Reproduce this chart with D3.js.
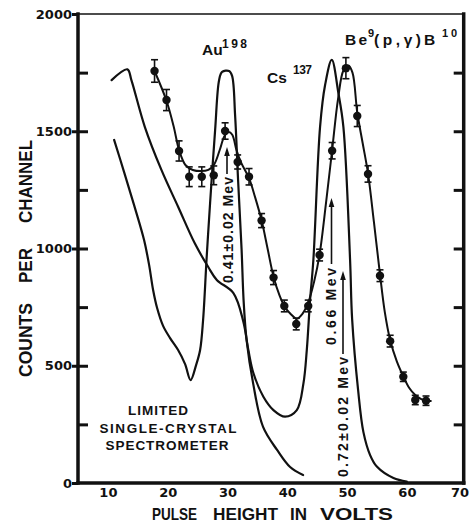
<!DOCTYPE html>
<html><head><meta charset="utf-8">
<script src="https://cdn.jsdelivr.net/npm/d3@7/dist/d3.min.js"></script>
<style>
html,body{margin:0;padding:0;background:#fff;}
svg{display:block;}
text{font-family:"Liberation Sans",Arial,sans-serif;font-weight:bold;fill:#111;}
</style></head><body>
<svg id="chart" width="469" height="524"></svg>
<script>
// ---------- data ----------
const xTicks = [10, 20, 30, 40, 50, 60, 70];
const yTicks = [0, 500, 1000, 1500, 2000];
const yInnerTicks = [250, 500, 750, 1000, 1250, 1500, 1750];

// Be9(p,gamma)B10 measured points
const pointX = [17.8,19.8,21.9,23.6,25.7,27.7,29.6,31.7,33.6,35.7,37.7,39.5,41.5,43.5,45.4,47.5,49.8,51.7,53.5,55.5,57.2,59.4,61.4,63.2];
const pointY = [1757,1633,1416,1306,1306,1312,1501,1369,1306,1119,876,755,678,755,972,1417,1769,1565,1318,884,605,453,354,351];
const pointErr = [48,45,43,42,42,40,35,30,35,30,30,25,25,25,25,35,45,45,35,25,25,20,20,20];

// fitted curve through the points
const fitX = [17.8,19.8,21.0,21.9,23.0,24.2,25.5,26.8,27.8,28.7,29.5,30.2,30.8,31.5,32.3,33.6,34.6,35.7,36.7,37.7,38.7,39.6,40.6,41.6,42.5,43.5,44.5,45.4,46.5,47.5,48.5,49.4,50.2,50.9,51.7,52.6,53.5,54.5,55.5,56.3,57.2,58.3,59.4,60.4,61.4,62.4,63.2,64.0];
const fitY = [1757,1630,1520,1420,1355,1335,1330,1335,1360,1420,1480,1497,1485,1420,1365,1300,1220,1120,1000,880,800,750,720,700,720,770,860,975,1200,1420,1640,1760,1780,1750,1580,1450,1320,1110,890,730,610,520,455,405,375,358,352,350];

// Cs137 response curve
const csX = [10.62,13.26,13.93,16.17,18.95,21.74,24.53,26.76,28.21,30.99,32.66,33.49,34.33,36.0,37.68,39.63,41.59,42.70,43.26,43.81,44.36,45.48,46.32,47.44,48.55,49.38,50.50,50.84,51.84,52.73,53.85,54.97,57.75,59.98];
const csY = [1718,1764,1718,1519,1335,1178,1022,922,866,810,687,567,469,368,311,283,311,425,567,780,951,1519,1697,1804,1662,1519,951,700,397,217,119,70,21,6];

// Au198 response curve
const auX = [11.04,12.71,14.38,16.05,16.89,17.56,18.23,19.23,20.40,21.74,22.91,23.83,24.75,25.42,25.92,26.51,27.09,27.93,28.60,29.10,30.27,30.77,31.27,31.77,32.36,32.69,33.19,34.28,35.95,38.29,40.47,42.64];
const auY = [1463,1326,1185,1036,930,823,746,670,618,567,507,439,503,567,695,959,1194,1505,1719,1753,1757,1736,1569,1292,994,780,610,426,239,141,68,34];

// ---------- chart ----------
const svg = d3.select("#chart");
const x = d3.scaleLinear().domain([5, 69.5]).range([78, 463.7]);
const y = d3.scaleLinear().domain([0, 2000]).range([483, 14]);
const ink = "#111";

const line = d3.line().x(d => x(d[0])).y(d => y(d[1])).curve(d3.curveCatmullRom.alpha(0.5));

// frame
const fr = svg.append("g").attr("stroke", ink).attr("fill", "none").attr("stroke-linecap", "square");
fr.append("line").attr("x1", x(5)).attr("x2", x(5)).attr("y1", y(2000)).attr("y2", y(0)).attr("stroke-width", 3.5);
fr.append("line").attr("x1", x(69.5)).attr("x2", x(69.5)).attr("y1", y(2000)).attr("y2", y(0)).attr("stroke-width", 3.5);
fr.append("line").attr("x1", x(5)).attr("x2", x(69.5)).attr("y1", y(0)).attr("y2", y(0)).attr("stroke-width", 3.5);
fr.append("line").attr("x1", x(5)).attr("x2", x(69.5)).attr("y1", y(2000)).attr("y2", y(2000)).attr("stroke-width", 1.5);

// left axis labels with short outer ticks
const gl = svg.append("g").attr("transform", `translate(${x(5)},0)`)
  .call(d3.axisLeft(y).tickValues(yTicks).tickSize(6).tickPadding(0).tickFormat(d3.format("d")));
gl.select(".domain").remove();
gl.selectAll("line").attr("stroke", ink).attr("stroke-width", 3);
gl.selectAll("text").style("font-family", "'DejaVu Sans',sans-serif").style("font-weight", "bold").style("font-size", "13px").attr("fill", ink);

// inner ticks left and right
const gli = svg.append("g").attr("transform", `translate(${x(5)},0)`)
  .call(d3.axisRight(y).tickValues(yInnerTicks).tickSize(10).tickFormat(""));
gli.select(".domain").remove();
gli.selectAll("line").attr("stroke", ink).attr("stroke-width", 3);
const gri = svg.append("g").attr("transform", `translate(${x(69.5)},0)`)
  .call(d3.axisLeft(y).tickValues(yInnerTicks).tickSize(10).tickFormat(""));
gri.select(".domain").remove();
gri.selectAll("line").attr("stroke", ink).attr("stroke-width", 3);

// bottom axis labels
const gb = svg.append("g").attr("transform", `translate(0,${y(0)})`)
  .call(d3.axisBottom(x).tickValues(xTicks).tickSize(0).tickPadding(5).tickFormat(d3.format("d")));
gb.select(".domain").remove();
gb.selectAll("text").style("font-family", "'DejaVu Sans',sans-serif").style("font-weight", "bold").style("font-size", "13px").attr("fill", ink);
gb.selectAll(".tick").filter(d => d === 70).select("text").attr("text-anchor", "end").attr("x", 468.5 - x(70));

// curves
const curves = svg.append("g").attr("fill", "none").attr("stroke", ink).attr("stroke-linejoin", "round").attr("stroke-linecap", "round");
curves.append("path").attr("d", line(csX.map((v, i) => [v, csY[i]]))).attr("stroke-width", 2.2);
curves.append("path").attr("d", line(auX.map((v, i) => [v, auY[i]]))).attr("stroke-width", 2.2);
curves.append("path").attr("d", line(fitX.map((v, i) => [v, fitY[i]]))).attr("stroke-width", 2);

// error bars and points
const pts = svg.append("g");
pointX.forEach((v, i) => {
  const cx = x(v), y1 = y(pointY[i] - pointErr[i]), y2 = y(pointY[i] + pointErr[i]);
  pts.append("line").attr("x1", cx).attr("x2", cx).attr("y1", y1).attr("y2", y2).attr("stroke", ink).attr("stroke-width", 1.6);
  pts.append("line").attr("x1", cx - 3.5).attr("x2", cx + 3.5).attr("y1", y1).attr("y2", y1).attr("stroke", ink).attr("stroke-width", 1.6);
  pts.append("line").attr("x1", cx - 3.5).attr("x2", cx + 3.5).attr("y1", y2).attr("y2", y2).attr("stroke", ink).attr("stroke-width", 1.6);
  pts.append("circle").attr("cx", cx).attr("cy", y(pointY[i])).attr("r", 4.2).attr("fill", ink);
});

// isotope labels
const lab = svg.append("g");
lab.append("text").attr("x", 202).attr("y", 55).style("font-size", "15.5px").text("Au");
lab.append("text").attr("x", 222).attr("y", 48).style("font-size", "12px").attr("textLength", 25).text("198");
lab.append("text").attr("x", 267).attr("y", 83).style("font-size", "15.5px").text("Cs");
lab.append("text").attr("x", 293).attr("y", 74).style("font-size", "12px").attr("textLength", 19).text("137");
lab.append("text").attr("x", 345).attr("y", 45).style("font-size", "15.5px").attr("textLength", 22).text("Be");
lab.append("text").attr("x", 368).attr("y", 37).style("font-size", "11px").text("9");
lab.append("text").attr("x", 374).attr("y", 45).style("font-size", "15.5px").attr("textLength", 47).text("(p,γ)");
lab.append("text").attr("x", 424).attr("y", 45).style("font-size", "15.5px").text("B");
lab.append("text").attr("x", 442).attr("y", 37).style("font-size", "11px").attr("textLength", 15).text("10");

// LIMITED SINGLE-CRYSTAL SPECTROMETER
lab.append("text").attr("x", 158).attr("y", 415).attr("text-anchor", "middle").style("font-size", "13.5px").attr("textLength", 60).text("LIMITED");
lab.append("text").attr("x", 168).attr("y", 433).attr("text-anchor", "middle").style("font-size", "13.5px").attr("textLength", 137).text("SINGLE-CRYSTAL");
lab.append("text").attr("x", 167).attr("y", 450).attr("text-anchor", "middle").style("font-size", "13.5px").attr("textLength", 123).text("SPECTROMETER");

// energy annotations (vertical) with arrows
function vlabel(bx, yBottom, yTop, txt, ax, ay1, ay2) {
  lab.append("text").attr("transform", `translate(${bx},${yBottom}) rotate(-90)`)
    .style("font-size", "14px").attr("textLength", yBottom - yTop).attr("lengthAdjust", "spacing").text(txt);
  lab.append("line").attr("x1", ax).attr("x2", ax).attr("y1", ay1).attr("y2", ay2 + 6).attr("stroke", ink).attr("stroke-width", 1.6);
  lab.append("path").attr("d", `M${ax},${ay2} L${ax - 2.8},${ay2 + 9} L${ax + 2.8},${ay2 + 9} Z`).attr("fill", ink);
}
vlabel(233, 283, 177, "0.41±0.02 Mev", 227, 174, 147);
vlabel(336, 345, 268, "0.66 Mev", 331.5, 264, 198);
vlabel(348, 477, 357, "0.72±0.02 Mev", 343, 354, 271);

// axis titles, word by word to keep the wide word gaps
const xTitleWords = [["PULSE", 152, 45], ["HEIGHT", 213, 65], ["IN", 290, 17], ["VOLTS", 320, 73]];
xTitleWords.forEach(([w, sx, len]) => {
  svg.append("text").attr("x", sx).attr("y", 520).style("font-size", "16.5px")
    .attr("textLength", len).attr("lengthAdjust", "spacingAndGlyphs").text(w);
});
const yTitleWords = [["COUNTS", 377, 74], ["PER", 283, 35], ["CHANNEL", 223, 83]];
yTitleWords.forEach(([w, sy, len]) => {
  svg.append("text").attr("transform", `translate(32,${sy}) rotate(-90)`).style("font-size", "18px")
    .attr("textLength", len).attr("lengthAdjust", "spacingAndGlyphs").text(w);
});
</script>
</body></html>
